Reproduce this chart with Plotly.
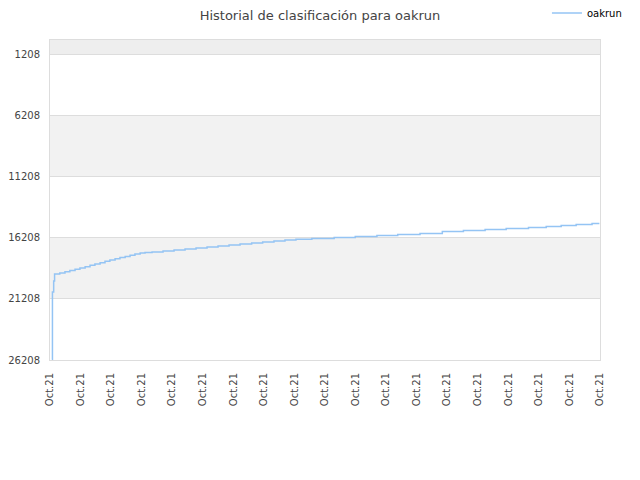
import plotly.graph_objects as go

# ranking history for oakrun (lower rank = better), x in day units across the axis
x_pos = [0.07, 0.08, 0.12, 0.15, 0.32, 0.49, 0.65, 0.82, 0.98, 1.15, 1.31, 1.47,
         1.64, 1.80, 1.96, 2.13, 2.29, 2.46, 2.62, 2.78, 2.95, 3.11, 3.34, 3.70,
         4.06, 4.42, 4.78, 5.14, 5.50, 5.86, 6.22, 6.60, 6.96, 7.33, 7.69, 8.05,
         8.57, 9.30, 9.99, 10.70, 11.38, 12.11, 12.84, 13.53, 14.24, 14.93, 15.66,
         16.24, 16.73, 17.22, 17.74, 17.98]
ranks = [26180, 20635, 19733, 19159, 19078, 18979, 18873, 18774, 18667, 18561,
         18454, 18339, 18233, 18126, 18011, 17913, 17815, 17724, 17626, 17536,
         17454, 17413, 17356, 17274, 17192, 17110, 17028, 16946, 16864, 16782,
         16700, 16618, 16536, 16454, 16372, 16315, 16266, 16184, 16102, 16020,
         15938, 15856, 15692, 15610, 15528, 15446, 15364, 15282, 15200, 15118,
         15036, 15036]

y_ticks = [1208, 6208, 11208, 16208, 21208, 26208]
y_labels = [str(v) for v in y_ticks]
x_ticks = list(range(19))
x_labels = ["Oct.21"] * 19

fig = go.Figure()
fig.add_trace(go.Scatter(x=x_pos, y=ranks, mode="lines", name="oakrun",
                         line=dict(color="#94c4f4", width=1.5, shape="hv")))

# alternating background bands
bands = [(0, y_ticks[0], "#eeeeee"), (y_ticks[1], y_ticks[2], "#f2f2f2"),
         (y_ticks[3], y_ticks[4], "#f2f2f2")]
for y0, y1, col in bands:
    fig.add_shape(type="rect", xref="paper", x0=0, x1=1, yref="y", y0=y0, y1=y1,
                  fillcolor=col, line_width=0, layer="below")

# page body has an 8px margin, so the figure is sized to fit inside it
fig.update_layout(
    width=624, height=464,
    template="plotly_white",
    font=dict(family="DejaVu Sans", size=10, color="#444"),
    title=dict(text="Historial de clasificación para oakrun", x=0.5, y=0.985,
               xanchor="center", yanchor="middle",
               font=dict(size=13, color="#444")),
    margin=dict(l=42, r=32, t=32, b=112, autoexpand=False),
    plot_bgcolor="white",
    showlegend=True,
    legend=dict(x=1.049, y=1.084, xanchor="right", yanchor="middle",
                font=dict(size=10, color="#000"), itemwidth=30,
                bgcolor="rgba(0,0,0,0)"),
)
fig.update_xaxes(range=[0, 18], tickvals=x_ticks, ticktext=x_labels,
                 tickangle=-90, showgrid=False, zeroline=False,
                 showline=True, linecolor="#dddddd", mirror=True,
                 ticklabelstandoff=8,
                 automargin=False, tickfont=dict(size=10, color="#444"))
fig.update_yaxes(range=[26208, 0], tickvals=y_ticks, ticktext=y_labels,
                 showgrid=True, gridcolor="#dddddd", zeroline=False,
                 showline=True, linecolor="#dddddd", mirror=True,
                 ticklabelstandoff=7,
                 automargin=False, tickfont=dict(size=10, color="#444"))

fig.write_html("out.html")
